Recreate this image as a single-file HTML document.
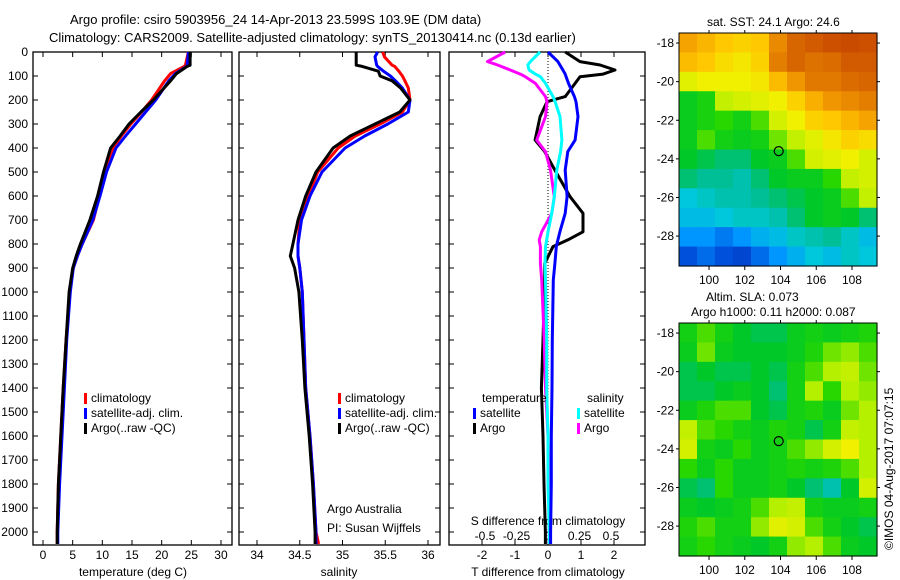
<!DOCTYPE html>
<html><head><meta charset="utf-8">
<style>
body{margin:0;background:#fff;}
svg{display:block;font-family:"Liberation Sans",sans-serif;}
text{font-size:12px;fill:#000;}
</style></head>
<body>
<svg id="fig" width="900" height="580" viewBox="0 0 900 580" xmlns="http://www.w3.org/2000/svg">
<text x="70" y="24" style="font-size:13px">Argo profile: csiro 5903956_24 14-Apr-2013 23.599S 103.9E (DM data)</text>
<text x="49" y="42" style="font-size:13px">Climatology: CARS2009. Satellite-adjusted climatology: synTS_20130414.nc (0.13d earlier)</text>
<text x="707" y="26">sat. SST: 24.1 Argo: 24.6</text>
<text x="706" y="301">Altim. SLA: 0.073</text>
<text x="691" y="316">Argo h1000: 0.11 h2000: 0.087</text>
<text transform="translate(893,550) rotate(-90)">©IMOS 04-Aug-2017 07:07:15</text>
<g id="plots"></g>
</svg>
<script>
// ---------- data ----------
const depthTicks = [0,100,200,300,400,500,600,700,800,900,1000,1100,1200,1300,1400,1500,1600,1700,1800,1900,2000];
const tempTicks = [0,5,10,15,20,25,30];
const salTicks = [34,34.5,35,35.5,36];
const salTickLabels = ['34','34.5','35','35.5','36'];
const tdiffTicks = [-2,-1,0,1,2];
const sdiffTicks = [-0.5,-0.25,0,0.25,0.5];
const sdiffTickLabels = ['-0.5','-0.25','0','0.25','0.5'];

const tDepth = [0,55,60,90,120,200,250,300,350,400,500,600,700,800,850,900,1000,1200,1400,1600,1800,2000,2050];
const argoTemp = [24.8,24.8,24.3,22.5,21.5,18.6,16.5,14.5,13,11.4,10.2,9.2,7.9,6.3,5.6,5.0,4.4,3.9,3.4,3.0,2.6,2.4,2.4];
const climTemp = [24.5,24.0,23.8,21.5,20.5,18.3,16.6,14.8,13.2,11.8,10.5,9.5,8.5,6.6,5.8,5.1,4.5,3.9,3.4,3.0,2.6,2.4,2.4];
const satTemp  = [24.5,24.3,24.2,22.3,21.2,19.0,17.3,15.6,13.9,12.3,10.7,9.6,8.4,6.6,5.8,5.1,4.6,4.0,3.6,3.2,2.8,2.5,2.5];

const sDepth = [0,20,55,60,80,100,120,150,200,250,300,350,400,500,600,700,800,850,900,1000,1200,1400,1600,1800,2000,2050];
const argoSal = [35.16,35.16,35.16,35.23,35.42,35.44,35.58,35.68,35.79,35.67,35.38,35.09,34.89,34.69,34.57,34.48,34.42,34.39,34.44,34.49,34.53,34.56,34.61,34.65,34.68,34.68];
const climSal = [35.47,35.49,35.58,35.61,35.66,35.70,35.73,35.77,35.79,35.70,35.44,35.15,34.95,34.71,34.60,34.50,34.48,34.48,34.50,34.53,34.55,34.57,34.62,34.66,34.69,34.72];
const satSal  = [35.41,35.38,35.40,35.41,35.48,35.56,35.62,35.70,35.79,35.77,35.53,35.26,35.03,34.76,34.62,34.52,34.48,34.48,34.50,34.53,34.55,34.57,34.62,34.66,34.69,34.69];

const dDepth = [0,40,54,75,92,103,131,186,207,269,367,415,492,603,672,749,783,811,881,950,1200,1400,1600,1800,2000,2050];
const argoTdiff = [0.52,0.97,1.58,2.03,1.67,0.97,0.82,0.52,-0.03,-0.24,-0.39,-0.1,0.21,0.67,1.06,1.06,0.6,0.15,-0.1,-0.1,-0.15,-0.2,-0.15,-0.12,-0.08,-0.08];
const satTdiff  = [0.0,0.3,0.36,0.45,0.52,0.55,0.62,0.8,0.85,0.91,0.82,0.6,0.52,0.58,0.52,0.36,0.3,0.25,0.21,0.16,0.13,0.12,0.1,0.1,0.08,0.08];
const satSdiff  = [-0.063,-0.14,-0.16,-0.15,-0.1,-0.06,-0.02,0.04,0.056,0.095,0.11,0.1,0.07,0.05,0.03,0.0,-0.01,-0.02,-0.024,-0.02,-0.01,-0.01,0.0,0.0,0.01,0.01];
const argoSdiff = [-0.34,-0.48,-0.4,-0.3,-0.22,-0.18,-0.1,-0.02,-0.008,-0.02,-0.09,-0.02,0.02,0.05,0.03,-0.05,-0.07,-0.06,-0.06,-0.05,-0.03,-0.02,0.0,0.01,0.01,0.01];

const lonTicks = [100,102,104,106,108];
const latTicks = [-18,-20,-22,-24,-26,-28];
const argoLon = 103.9, argoLat = -23.6;
const sstGrid = [
[0.78,0.75,0.72,0.70,0.72,0.82,0.88,0.90,0.92,0.93,0.92],
[0.74,0.72,0.68,0.66,0.70,0.84,0.88,0.86,0.87,0.90,0.90],
[0.62,0.64,0.64,0.64,0.66,0.74,0.80,0.85,0.85,0.87,0.88],
[0.42,0.45,0.58,0.60,0.62,0.64,0.70,0.76,0.80,0.82,0.84],
[0.42,0.45,0.48,0.44,0.50,0.60,0.64,0.70,0.72,0.75,0.78],
[0.42,0.50,0.44,0.42,0.44,0.52,0.58,0.62,0.66,0.70,0.68],
[0.40,0.38,0.36,0.36,0.40,0.42,0.50,0.60,0.62,0.64,0.60],
[0.36,0.34,0.34,0.32,0.36,0.40,0.42,0.42,0.48,0.58,0.60],
[0.28,0.30,0.32,0.32,0.34,0.36,0.38,0.40,0.42,0.50,0.58],
[0.26,0.26,0.28,0.30,0.30,0.32,0.36,0.40,0.42,0.40,0.36],
[0.20,0.20,0.16,0.20,0.24,0.26,0.30,0.32,0.34,0.30,0.26],
[0.10,0.14,0.10,0.08,0.14,0.20,0.24,0.28,0.26,0.30,0.28]];
const slaGrid = [
[0.44,0.50,0.44,0.40,0.38,0.38,0.42,0.44,0.42,0.44,0.46],
[0.42,0.52,0.42,0.40,0.40,0.40,0.42,0.46,0.52,0.54,0.50],
[0.38,0.40,0.38,0.38,0.40,0.38,0.44,0.50,0.56,0.58,0.52],
[0.38,0.38,0.40,0.42,0.40,0.36,0.44,0.56,0.48,0.56,0.54],
[0.42,0.46,0.50,0.50,0.40,0.38,0.44,0.46,0.42,0.52,0.56],
[0.58,0.50,0.48,0.44,0.42,0.46,0.44,0.38,0.44,0.58,0.56],
[0.60,0.44,0.42,0.48,0.42,0.44,0.50,0.54,0.60,0.64,0.56],
[0.48,0.42,0.48,0.42,0.42,0.44,0.46,0.44,0.46,0.50,0.56],
[0.38,0.36,0.48,0.42,0.42,0.44,0.40,0.36,0.32,0.40,0.60],
[0.42,0.40,0.42,0.44,0.50,0.56,0.58,0.44,0.42,0.42,0.44],
[0.46,0.50,0.44,0.44,0.54,0.62,0.60,0.50,0.44,0.40,0.38],
[0.44,0.48,0.44,0.42,0.40,0.44,0.54,0.56,0.50,0.42,0.40]];

// ---------- drawing ----------
const NS='http://www.w3.org/2000/svg';
const root=document.getElementById('plots');
function el(tag,attrs,parent){const e=document.createElementNS(NS,tag);for(const k in attrs)e.setAttribute(k,attrs[k]);(parent||root).appendChild(e);return e;}
function txt(x,y,s,anchor,parent){const t=el('text',{x:x,y:y,'text-anchor':anchor||'start'},parent);t.textContent=s;return t;}

const TOP=52,BOT=545;
const yD=d=>TOP+0.24*d;
const xT=v=>43+5.933*v;
const xS=v=>257+85.5*(v-34);
const xTD=v=>548+33*v;
const xSD=v=>548+126*v;

function panel(name,x0,x1){
  const g=el('g',{});
  
  
  const r=el('rect',{x:x0,y:TOP,width:x1-x0,height:BOT-TOP,fill:'none',stroke:'#000','stroke-width':1.3},g);
  
  
  depthTicks.forEach(d=>{
    el('line',{x1:x0,x2:x0+5,y1:yD(d),y2:yD(d),stroke:'#000'},g);
    el('line',{x1:x1,x2:x1-5,y1:yD(d),y2:yD(d),stroke:'#000'},g);
  });
  return g;
}
function line(g,xs,ds,fx,color,name,w){
  const pts=xs.map((v,i)=>fx(v).toFixed(1)+','+yD(ds[i]).toFixed(1)).join(' ');
  const p=el('polyline',{points:pts,fill:'none',stroke:color,'stroke-width':w||3,'stroke-linejoin':'round'},g);
  
  
}
function xticks(g,ticks,labels,fx,y){
  ticks.forEach((v,i)=>{
    const x=fx(v);
    el('line',{x1:x,x2:x,y1:BOT,y2:BOT-5,stroke:'#000'},g);
    el('line',{x1:x,x2:x,y1:TOP,y2:TOP+5,stroke:'#000'},g);
    const t=txt(x,y,labels?labels[i]:String(v),'middle',g);
    
    
  });
}
function legend(g,x,y,items){
  items.forEach((it,i)=>{
    el('rect',{x:x,y:y+i*15-9,width:3,height:11,fill:it[1]},g);
    const t=txt(x+7,y+i*15,it[0],'start',g);
    
    
  });
}

// panel 1: temperature
const g1=panel('temperature-panel',33,232);
depthTicks.forEach(d=>{const t=txt(28,yD(d)+4,String(d),'end',g1);
  
  });
xticks(g1,tempTicks,null,xT,559);
const xl1=txt(133,576,'temperature (deg C)','middle',g1);


line(g1,climTemp,tDepth,xT,'#f00','climatology-temp-line');
line(g1,satTemp,tDepth,xT,'#00f','satellite-temp-line');
line(g1,argoTemp,tDepth,xT,'#000','argo-temp-line');
legend(g1,84,402,[['climatology','#f00'],['satellite-adj. clim.','#00f'],['Argo(..raw -QC)','#000']]);

// panel 2: salinity
const g2=panel('salinity-panel',239,440);
xticks(g2,salTicks,salTickLabels,xS,559);
const xl2=txt(339,576,'salinity','middle',g2);


line(g2,climSal,sDepth,xS,'#f00','climatology-sal-line');
line(g2,satSal,sDepth,xS,'#00f','satellite-sal-line');
line(g2,argoSal,sDepth,xS,'#000','argo-sal-line');
legend(g2,338,402,[['climatology','#f00'],['satellite-adj. clim.','#00f'],['Argo(..raw -QC)','#000']]);
txt(327,553-40,'Argo Australia','start',g2);
txt(327,532,'PI: Susan Wijffels','start',g2);

// panel 3: differences
const g3=panel('difference-panel',449,645);
xticks(g3,tdiffTicks,null,xTD,559);
sdiffTicks.forEach((v,i)=>{const t=txt(xSD(v),540,sdiffTickLabels[i],'middle',g3);
  
  });
txt(548,525,'S difference from climatology','middle',g3);
const xl3=txt(548,576,'T difference from climatology','middle',g3);


el('line',{x1:xTD(0),x2:xTD(0),y1:TOP,y2:BOT,stroke:'#000','stroke-dasharray':'1,2'},g3);
line(g3,argoTdiff,dDepth,xTD,'#000','argo-tdiff-line');
line(g3,argoSdiff,dDepth,xSD,'#f0f','argo-sdiff-line');
line(g3,satSdiff,dDepth,xSD,'#0ff','satellite-sdiff-line');
line(g3,satTdiff,dDepth,xTD,'#00f','satellite-tdiff-line');
txt(482,402,'temperature','start',g3);
txt(587,402,'salinity','start',g3);
legend(g3,473,417,[['satellite','#00f'],['Argo','#000']]);
legend(g3,577,417,[['satellite','#0ff'],['Argo','#f0f']]);

// colormap
const cstops=[[0,[0,30,150]],[0.1,[0,80,220]],[0.2,[0,150,255]],[0.28,[0,200,220]],[0.34,[0,190,150]],[0.4,[0,200,40]],[0.48,[40,215,0]],[0.56,[180,240,0]],[0.64,[240,240,0]],[0.72,[255,200,0]],[0.8,[240,150,0]],[0.9,[210,90,0]],[1,[180,40,0]]];
function cmap(v){
  for(let i=1;i<cstops.length;i++){if(v<=cstops[i][0]){const a=cstops[i-1],b=cstops[i];const f=(v-a[0])/(b[0]-a[0]);
    return 'rgb('+a[1].map((c,k)=>Math.round(c+(b[1][k]-c)*f)).join(',')+')';}}
  return 'rgb(180,40,0)';
}
function map(name,grid,y0){
  const X0=679,X1=877,Y1=y0+233;
  const lonL=98.32,lonR=109.4,latT=-17.48,latB=-29.55;
  const xL=l=>X0+(l-lonL)*(X1-X0)/(lonR-lonL);
  const yL=l=>y0+(latT-l)*(Y1-y0)/(latT-latB);
  const g=el('g',{});
  
  
  const rows=grid.length,cols=grid[0].length;
  const cw=(X1-X0)/cols,ch=(Y1-y0)/rows;
  grid.forEach((row,r)=>row.forEach((v,c)=>{
    const cell=el('rect',{x:X0+c*cw,y:y0+r*ch,width:cw+0.6,height:ch+0.6,fill:cmap(v)},g);
    
    
  }));
  el('rect',{x:X0,y:y0,width:X1-X0,height:Y1-y0,fill:'none',stroke:'#000'},g);
  lonTicks.forEach(l=>{const x=xL(l);
    el('line',{x1:x,x2:x,y1:Y1,y2:Y1+4,stroke:'#000'},g);
    el('line',{x1:x,x2:x,y1:y0,y2:y0-3,stroke:'#000'},g);
    txt(x,Y1+18,String(l),'middle',g);});
  latTicks.forEach(l=>{const y=yL(l);
    el('line',{x1:X0,x2:X0-3,y1:y,y2:y,stroke:'#000'},g);
    el('line',{x1:X1,x2:X1+3,y1:y,y2:y,stroke:'#000'},g);
    txt(X0-5,y+4,String(l),'end',g);});
  const m=el('circle',{cx:xL(argoLon),cy:yL(argoLat),r:4.5,fill:'none',stroke:'#000','stroke-width':1.2},g);
  
  
}
map('sst-map',sstGrid,33);
map('sla-map',slaGrid,323);
</script>
</body></html>
